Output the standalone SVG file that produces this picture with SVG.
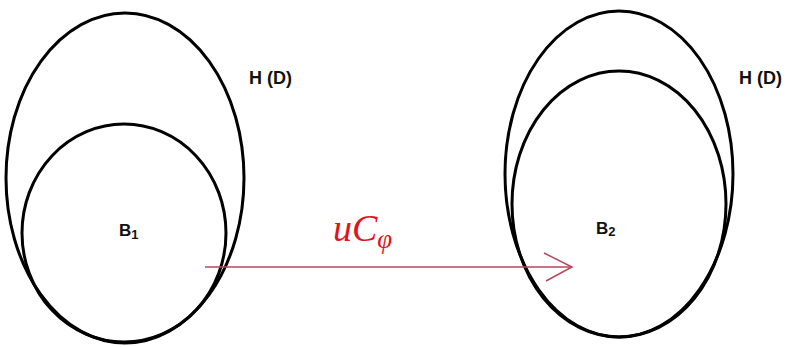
<svg xmlns="http://www.w3.org/2000/svg" width="791" height="347" viewBox="0 0 791 347">
<style>
.e{fill:none;stroke:#000;stroke-width:3}
.h{font-family:"Liberation Sans",Arial,sans-serif;font-weight:bold;font-size:18px;fill:#111}
.b{font-family:"Liberation Sans",Arial,sans-serif;font-weight:bold;font-size:17px;fill:#111}
.m{font-family:"Liberation Serif","DejaVu Serif",serif;font-style:italic;fill:#e0141e}
.a{fill:none;stroke:#b5485a;stroke-width:1.5}
</style>
<rect width="791" height="347" fill="#fff"/>
<g id="left-H">
<ellipse class="e" cx="125" cy="178" rx="119" ry="165"/>
<text class="h" x="249" y="84">H (D)</text>
</g>
<g id="left-B1">
<ellipse class="e" cx="124" cy="233" rx="102" ry="109"/>
<text class="b" x="119" y="236">B<tspan font-size="13" dy="3">1</tspan></text>
</g>
<g id="right-H">
<ellipse class="e" cx="619" cy="174" rx="114" ry="163"/>
<text class="h" x="739" y="84">H (D)</text>
</g>
<g id="right-B2">
<ellipse class="e" cx="619" cy="204" rx="107" ry="133"/>
<text class="b" x="596" y="234">B<tspan font-size="13" dy="2">2</tspan></text>
</g>
<g id="connectors">
<line class="a" x1="205" y1="267" x2="572" y2="267"/>
<polyline class="a" points="544,253 572,267 546,281"/>
<text class="m" x="333" y="241" font-size="38">uC<tspan font-size="27" dy="7">φ</tspan></text>
</g>
</svg>
